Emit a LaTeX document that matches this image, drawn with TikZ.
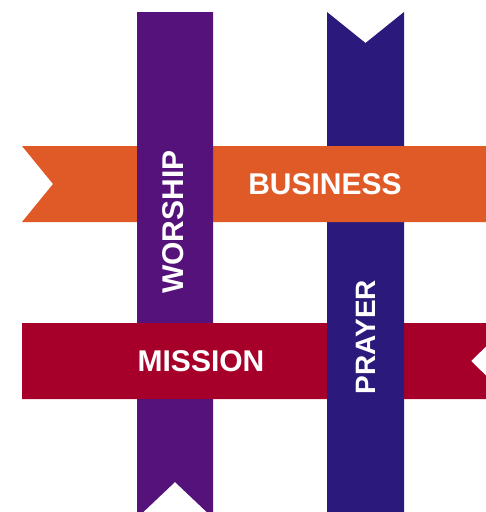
\documentclass[tikz,border=0pt]{standalone}
\usepackage{fontspec}
\setmainfont{Liberation Sans}
\usepackage{tikz}
\definecolor{worshipcol}{RGB}{84,18,122}
\definecolor{prayercol}{RGB}{43,26,123}
\definecolor{businesscol}{RGB}{224,90,40}
\definecolor{missioncol}{RGB}{166,0,42}

\begin{document}
\begin{tikzpicture}[x=1pt, y=-1pt,
    lbl/.style={text=white, font=\bfseries\fontsize{30}{30}\selectfont, inner sep=0pt}]
      \useasboundingbox (0, 0) rectangle (486, 512);
      \clip (0, 0) rectangle (486, 512);
      \fill[white] (0, 0) rectangle (486, 512);
      % ribbons, woven
      \fill[missioncol] (22, 323) -- (510, 323) -- (471, 361) -- (510, 399) -- (22, 399) -- cycle;
      \fill[prayercol] (327, 12) -- (365.5, 43) -- (404, 12) -- (404, 520) -- (327, 520) -- cycle;
      \fill[businesscol] (22, 146) -- (490, 146) -- (490, 222) -- (22, 222) -- (53, 184) -- cycle;
      \fill[worshipcol] (137, 12) -- (213, 12) -- (213, 518) -- (175, 482) -- (137, 518) -- cycle;
      \fill[missioncol] (137, 323) rectangle (213, 399);
      % labels
      \node[lbl, rotate=90] (worship) at (173, 222) {WORSHIP};
      \node[lbl] (business) at (325, 184) {BUSINESS};
      \node[lbl] (mission) at (201, 361) {MISSION};
      \node[lbl, rotate=90, font=\bfseries\fontsize{28}{28}\selectfont] (prayer) at (366, 337) {PRAYER};
    \end{tikzpicture}
\end{document}
